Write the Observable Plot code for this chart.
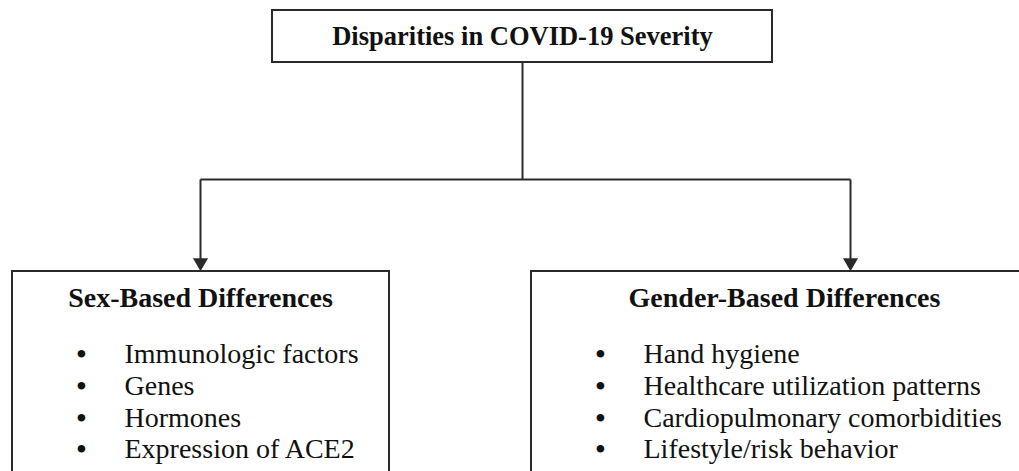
<!DOCTYPE html>
<html>
<head>
<meta charset="utf-8">
<script src="https://cdn.jsdelivr.net/npm/d3@7"></script>
<script src="https://cdn.jsdelivr.net/npm/@observablehq/plot@0.6"></script>
<style>
  html, body { margin: 0; padding: 0; background: #fff; overflow: hidden; }
</style>
</head>
<body>
<div id="chart"></div>
<script>
// ---- content ----
const title = "Disparities in COVID-19 Severity";
const branches = ["Sex-Based Differences", "Gender-Based Differences"];
const sexItems = ["Immunologic factors", "Genes", "Hormones", "Expression of ACE2"];
const genderItems = ["Hand hygiene", "Healthcare utilization patterns", "Cardiopulmonary comorbidities", "Lifestyle/risk behavior"];

// ---- layout (diagram coordinates, pixels) ----
const layout = {
  top: {x1: 272, x2: 772, y1: 10, y2: 62, cx: 522, base: 44},
  boxes: [
    {x1: 12, x2: 389, y1: 271, y2: 490, cx: 200, arrowX: 200, bullet: 81, text: 124},
    {x1: 531, x2: 1040, y1: 271, y2: 490, cx: 784, arrowX: 850, bullet: 600, text: 643}
  ],
  busY: 179,
  headBase: 306,
  rowBase: [362, 394, 426, 457],
  arrowTip: 270
};

const ink = "#2a2a2a";
const font = "'Liberation Serif', 'Times New Roman', serif";

const boxes = [
  {x1: layout.top.x1, x2: layout.top.x2, y1: layout.top.y1, y2: layout.top.y2},
  ...layout.boxes.map(b => ({x1: b.x1, x2: b.x2, y1: b.y1, y2: b.y2}))
];

const links = [
  {x1: layout.top.cx, y1: layout.top.y2, x2: layout.top.cx, y2: layout.busY},
  {x1: layout.boxes[0].arrowX, y1: layout.busY, x2: layout.boxes[1].arrowX, y2: layout.busY},
  ...layout.boxes.map(b => ({x1: b.arrowX, y1: layout.busY, x2: b.arrowX, y2: layout.arrowTip - 10}))
];

const heads = layout.boxes.map(b => ({x: b.arrowX, y: layout.arrowTip - 8}));

const headers = branches.map((label, i) => ({label, x: layout.boxes[i].cx, y: layout.headBase}));

const items = [];
[sexItems, genderItems].forEach((list, i) => {
  list.forEach((label, j) => {
    items.push({label, x: layout.boxes[i].text, bx: layout.boxes[i].bullet, y: layout.rowBase[j]});
  });
});

const chart = Plot.plot({
  width: 1019,
  height: 471,
  margin: 0,
  x: {domain: [0, 1019], axis: null},
  y: {domain: [0, 471], axis: null, reverse: true},
  style: {background: "#fff", overflow: "hidden", fontFamily: font},
  marks: [
    Plot.rect(boxes, {x1: "x1", x2: "x2", y1: "y1", y2: "y2", fill: "#fff", stroke: ink, strokeWidth: 2}),
    Plot.link(links, {x1: "x1", y1: "y1", x2: "x2", y2: "y2", stroke: ink, strokeWidth: 2}),
    Plot.dot(heads, {x: "x", y: "y", symbol: "triangle", rotate: 180, r: 5.6, fill: ink, stroke: "none"}),
    Plot.text([title], {x: layout.top.cx, y: layout.top.base, text: d => d, lineAnchor: "bottom", fontSize: 26.5, fontWeight: "bold", fill: "#111", fontFamily: font}),
    Plot.text(headers, {x: "x", y: "y", text: "label", lineAnchor: "bottom", fontSize: 28, fontWeight: "bold", fill: "#111", fontFamily: font}),
    Plot.text(items, {x: "bx", y: "y", text: () => "•", lineAnchor: "bottom", fontSize: 28, fontWeight: "bold", fill: "#111", fontFamily: font}),
    Plot.text(items, {x: "x", y: "y", text: "label", textAnchor: "start", lineAnchor: "bottom", fontSize: 28, fill: "#111", fontFamily: font})
  ]
});

document.getElementById("chart").appendChild(chart);
</script>
</body>
</html>
